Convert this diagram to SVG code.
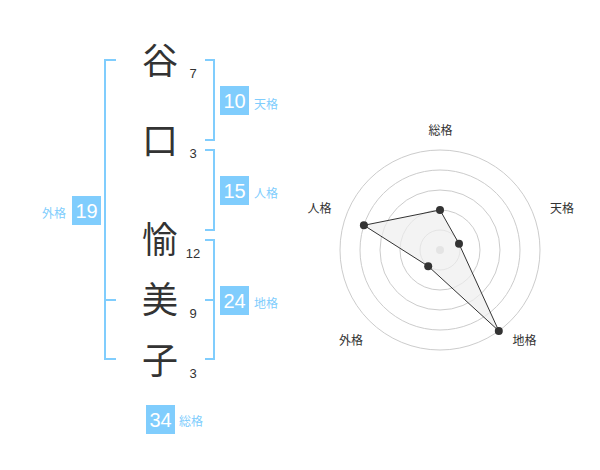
<svg xmlns="http://www.w3.org/2000/svg" width="600" height="470" viewBox="0 0 600 470">
<style>
.ch{font-family:"Noto Sans CJK JP","Noto Sans CJK SC",sans-serif;font-size:36px;fill:#333;text-anchor:middle}
.num{font-family:"Liberation Sans",Arial,sans-serif;font-size:13px;fill:#333;text-anchor:middle}
.br{fill:none;stroke:#80cdfd;stroke-width:2}
.box{fill:#80cdfd}
.bt{font-family:"Liberation Sans",Arial,sans-serif;font-size:20px;fill:#fff;text-anchor:middle}
.lb{font-family:"Noto Sans CJK JP","Noto Sans CJK SC",sans-serif;font-size:12px;fill:#80cdfd}
.ring{fill:none;stroke:#ccc;stroke-width:1}
.rl{font-family:"Noto Sans CJK JP","Noto Sans CJK SC",sans-serif;font-size:12px;fill:#333;text-anchor:middle}
.pt{fill:#333}
</style>
<rect width="600" height="470" fill="#fff"/>
<g id="name">
<g id="c1"><text class="ch" x="160" y="74">谷</text><text class="num" x="193" y="78">7</text></g>
<g id="c2"><text class="ch" x="160" y="154">口</text><text class="num" x="193" y="158">3</text></g>
<g id="c3"><text class="ch" x="160" y="253">愉</text><text class="num" x="193" y="258">12</text></g>
<g id="c4"><text class="ch" x="160" y="313">美</text><text class="num" x="193" y="318">9</text></g>
<g id="c5"><text class="ch" x="160" y="374">子</text><text class="num" x="193" y="378">3</text></g>
</g>
<g id="connectors">
<path class="br" d="M116,60H105V359H116M105,300H116"/>
<path class="br" d="M205,60H214V140H205"/>
<path class="br" d="M205,150H214V230H205"/>
<path class="br" d="M205,240H214V359H205M205,300H214"/>
</g>
<g id="tenkaku"><rect class="box" x="220" y="86" width="29" height="29"/><text class="bt" x="234.5" y="108">10</text><text class="lb" x="254" y="108.5">天格</text></g>
<g id="jinkaku"><rect class="box" x="220" y="176" width="29" height="29"/><text class="bt" x="234.5" y="198">15</text><text class="lb" x="254" y="198">人格</text></g>
<g id="gaikaku"><rect class="box" x="72" y="196" width="29" height="29"/><text class="bt" x="86.5" y="218">19</text><text class="lb" x="42" y="217.5">外格</text></g>
<g id="chikaku"><rect class="box" x="220" y="286" width="29" height="29"/><text class="bt" x="234.5" y="308">24</text><text class="lb" x="254" y="308">地格</text></g>
<g id="soukaku"><rect class="box" x="146" y="405" width="29" height="29"/><text class="bt" x="160.5" y="427">34</text><text class="lb" x="179" y="426">総格</text></g>
<g id="radar">
<circle class="ring" cx="440" cy="250" r="20"/>
<circle class="ring" cx="440" cy="250" r="40"/>
<circle class="ring" cx="440" cy="250" r="60"/>
<circle class="ring" cx="440" cy="250" r="80"/>
<circle class="ring" cx="440" cy="250" r="100"/>
<circle cx="440" cy="250" r="4" fill="#ccc"/>
<polygon points="440,210 459,243.8 498.8,330.9 428.2,266.2 363.9,225.3" fill="#eee" fill-opacity="0.7" stroke="#333" stroke-width="1"/>
<circle class="pt" cx="440" cy="210" r="4"/>
<circle class="pt" cx="459" cy="243.8" r="4"/>
<circle class="pt" cx="498.8" cy="330.9" r="4"/>
<circle class="pt" cx="428.2" cy="266.2" r="4"/>
<circle class="pt" cx="363.9" cy="225.3" r="4"/>
<text class="rl" x="440.5" y="134.5">総格</text>
<text class="rl" x="562" y="212.5">天格</text>
<text class="rl" x="319.5" y="212.5">人格</text>
<text class="rl" x="524.5" y="345">地格</text>
<text class="rl" x="351" y="345">外格</text>
</g>
</svg>
